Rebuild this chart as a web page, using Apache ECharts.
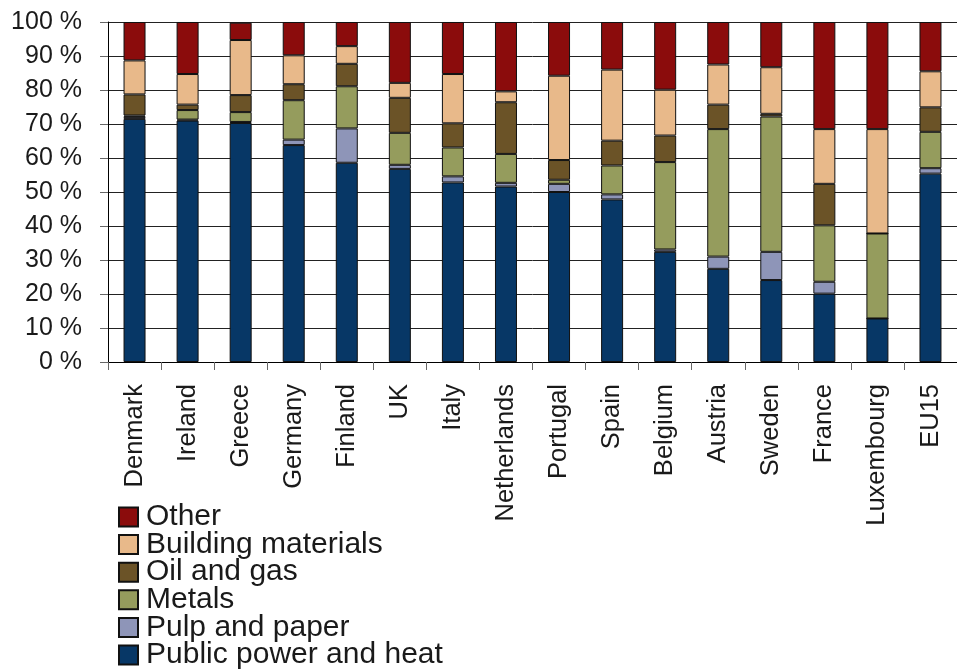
<!DOCTYPE html>
<html>
<head>
<meta charset="utf-8">
<script src="https://cdn.jsdelivr.net/npm/echarts@6/dist/echarts.min.js"></script>
<style>
html,body{margin:0;padding:0;background:#fff;}
#chart{width:957px;height:671px;}
</style>
</head>
<body>
<div id="chart"></div>
<script>
var categories = ["Denmark","Ireland","Greece","Germany","Finland","UK","Italy","Netherlands","Portugal","Spain","Belgium","Austria","Sweden","France","Luxembourg","EU15"];
var publicPower = [71.5,71.0,70.3,63.8,58.6,56.8,52.8,51.6,50.0,47.8,32.4,27.4,24.1,20.1,12.8,55.4];
var pulpPaper   = [0.6,0.3,0.3,1.6,10.1,1.2,1.8,1.1,2.4,1.5,0.7,3.6,8.3,3.5,0,1.6];
var metals      = [0.4,2.8,2.9,11.6,12.4,9.4,8.5,8.5,1.2,8.5,25.7,37.5,39.8,16.6,25.0,10.7];
var oilGas      = [6.2,1.6,5.0,4.7,6.6,10.3,7.1,15.2,5.8,7.3,7.8,7.2,0.8,12.2,0,7.2];
var building    = [10.0,9.0,16.2,8.5,5.2,4.4,14.5,3.2,24.8,20.9,13.5,11.8,13.7,16.1,30.7,10.6];
var other       = [11.3,15.3,5.1,9.8,7.1,17.9,15.3,20.4,15.8,14.0,19.9,12.5,13.3,31.5,31.5,14.5];
var yTicks = [0,10,20,30,40,50,60,70,80,90,100];

var seriesDefs = [
  {name:"Public power and heat", data:publicPower, color:"#073766"},
  {name:"Pulp and paper", data:pulpPaper, color:"#8E95B8"},
  {name:"Metals", data:metals, color:"#959C5D"},
  {name:"Oil and gas", data:oilGas, color:"#6B5327"},
  {name:"Building materials", data:building, color:"#E8B98A"},
  {name:"Other", data:other, color:"#8B0C0C"}
];
var font = "Liberation Sans, Arial, sans-serif";
var chart = echarts.init(document.getElementById('chart'));
chart.setOption({
  animation:false,
  backgroundColor:'#fff',
  textStyle:{fontFamily:font},
  grid:{left:108, top:22, width:853, height:340, containLabel:false},
  legend:{
    orient:'vertical', left:113, top:497, height:180, padding:5,
    data:seriesDefs.map(function(s){return s.name;}).reverse(),
    icon:'rect', itemWidth:19, itemHeight:19, itemGap:-2.4,
    textStyle:{fontSize:30, color:'#1a1a1a', fontFamily:font, padding:[0,0,0,3]},
    selectedMode:false
  },
  xAxis:{
    type:'category', data:categories,
    axisLine:{lineStyle:{color:'#000', width:1}},
    axisTick:{show:true, length:8, lineStyle:{color:'#666'}},
    axisLabel:{rotate:90, fontSize:25.5, color:'#1a1a1a', margin:22, fontFamily:font, interval:0}
  },
  yAxis:{
    type:'value', min:yTicks[0], max:yTicks[yTicks.length-1], interval:10,
    axisLine:{show:true, lineStyle:{color:'#000', width:1}},
    axisTick:{show:true, length:8, lineStyle:{color:'#666'}},
    axisLabel:{formatter:'{value} %', fontSize:25, color:'#1a1a1a', margin:26, fontFamily:font},
    splitLine:{show:true, lineStyle:{color:'#222', width:1}}
  },
  series:seriesDefs.map(function(s){
    return {
      name:s.name, type:'bar', stack:'total', data:s.data, barWidth:22,
      itemStyle:{color:s.color, borderColor:'#111', borderWidth:1}
    };
  })
});
</script>
</body>
</html>
